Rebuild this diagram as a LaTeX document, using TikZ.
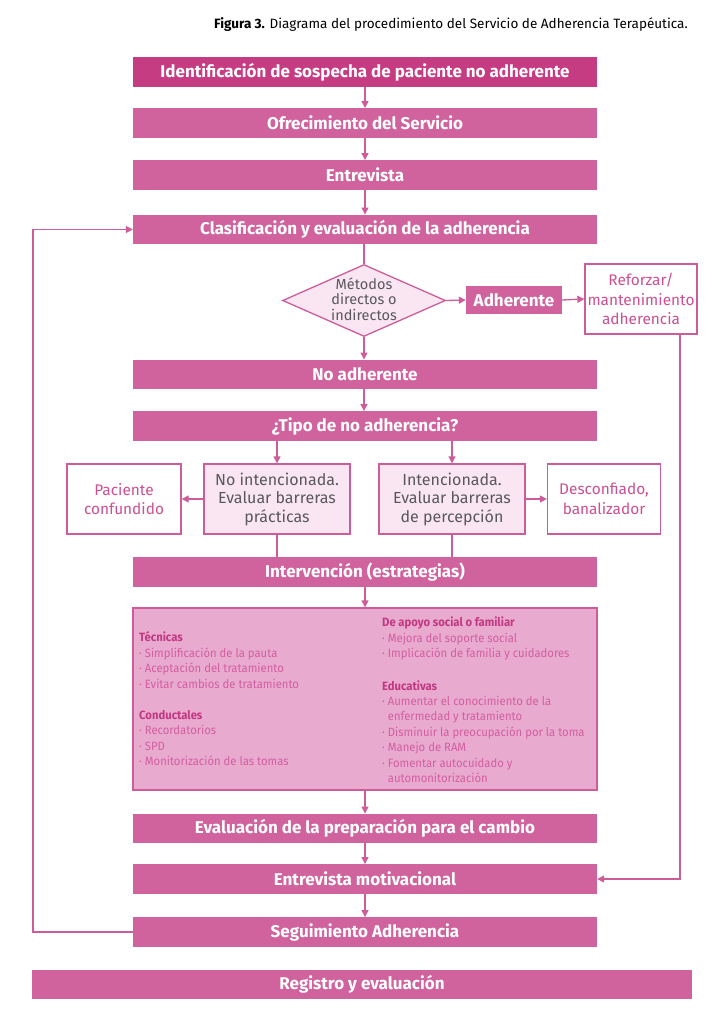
\documentclass[tikz,border=0pt]{standalone}
\usepackage{fontspec}
\setmainfont{Fira Sans}
\newfontfamily\condf{Fira Sans}
\newfontfamily\grpf[FakeStretch=0.94]{Fira Sans}
\usetikzlibrary{arrows.meta,shapes.geometric}
\definecolor{barc}{RGB}{208,98,157}
\definecolor{darkc}{RGB}{198,60,130}
\definecolor{linec}{RGB}{206,92,152}
\definecolor{lightc}{RGB}{250,230,242}
\definecolor{bigc}{RGB}{233,170,208}
\definecolor{ptext}{RGB}{205,80,145}
\definecolor{htext}{RGB}{194,56,130}
\definecolor{itext}{RGB}{210,94,160}
\definecolor{gtext}{RGB}{88,88,94}
\newcommand\grphead[1]{\textcolor{htext}{\bfseries #1}}
\begin{document}
\begin{tikzpicture}[x=1pt,y=-1pt,
  bar/.style={rectangle,fill=barc,minimum width=464pt,minimum height=29.5pt,inner sep=0pt,text=white,
    font=\condf\bfseries\fontsize{17}{19}\selectfont},
  arr/.style={draw=linec,line width=1.3pt,-{Triangle[length=7pt,width=7pt]}},
  ln/.style={draw=linec,line width=1.3pt},
  wbox/.style={rectangle,draw=linec,line width=1.3pt,fill=white,text=ptext,align=center,inner sep=0pt,
    minimum height=70pt,font=\condf\fontsize{15.4}{19.5}\selectfont},
  lbox/.style={wbox,fill=lightc,text=gtext,minimum width=146pt,font=\condf\fontsize{16}{18.5}\selectfont},
  grp/.style={anchor=west,align=left,inner sep=0pt,text=itext,font=\grpf\fontsize{12}{15.4}\selectfont}
]
\useasboundingbox (0,0) rectangle (722,1024);
\node[anchor=base east,inner sep=0pt,font=\fontsize{13.5}{16}\selectfont] (title) at (688,29)
  {\textbf{Figura 3.} Diagrama del procedimiento del Servicio de Adherencia Terapéutica.};

\node[bar,fill=darkc] (b1) at (365,72) {Identificación de sospecha de paciente no adherente};
\node[bar] (b2) at (365,123) {Ofrecimiento del Servicio};
\node[bar] (b3) at (365,175) {Entrevista};
\node[bar] (clas) at (365,229.5) {Clasificación y evaluación de la adherencia};

\node[diamond,draw=linec,line width=1.3pt,fill=lightc,minimum width=163pt,minimum height=72pt,inner sep=0pt] (d) at (364,300.5) {};
\node[align=center,text=gtext,inner sep=0pt,font=\condf\fontsize{14.5}{15.5}\selectfont] (dt) at (364,299) {Métodos\\directos o\\indirectos};

\node[bar,minimum width=96pt,minimum height=28pt] (adh) at (514,300) {Adherente};
\node[wbox,minimum width=112pt] (ref) at (641,299) {Reforzar/\\mantenimiento\\adherencia};

\node[bar] (noadh) at (365,374.5) {No adherente};
\node[bar] (tipo) at (365,426) {¿Tipo de no adherencia?};

\node[lbox] (noint) at (277,499) {No intencionada.\\Evaluar barreras\\prácticas};
\node[lbox] (int) at (452,499) {Intencionada.\\Evaluar barreras\\de percepción};
\node[wbox,minimum width=114pt] (pac) at (124,499) {Paciente\\confundido};
\node[wbox,minimum width=113pt] (desc) at (604,499) {Desconfiado,\\banalizador};

\node[bar] (interv) at (365,572) {Intervención (estrategias)};

\node[rectangle,draw=linec,line width=1.3pt,fill=bigc,minimum width=464pt,minimum height=182pt,inner sep=0pt] (big) at (365,699) {};
\node[grp] (g1) at (139,660) {\grphead{Técnicas}\\· Simplificación de la pauta\\· Aceptación del tratamiento\\· Evitar cambios de tratamiento};
\node[grp] (g2) at (139,738) {\grphead{Conductales}\\· Recordatorios\\· SPD\\· Monitorización de las tomas};
\node[grp] (g3) at (382,638.5) {\grphead{De apoyo social o familiar}\\· Mejora del soporte social\\· Implicación de familia y cuidadores};
\node[grp] (g4) at (382,731.5) {\grphead{Educativas}\\· Aumentar el conocimiento de la\\\phantom{· }enfermedad y tratamiento\\· Disminuir la preocupación por la toma\\· Manejo de RAM\\· Fomentar autocuidado y\\\phantom{· }automonitorización};

\node[bar] (evalp) at (365,828.5) {Evaluación de la preparación para el cambio};
\node[bar] (motiv) at (365,879) {Entrevista motivacional};
\node[bar] (seg) at (365,932) {Seguimiento Adherencia};
\node[bar,minimum width=660pt] (reg) at (362,984.5) {Registro y evaluación};

\coordinate (lft) at (33,0);
\coordinate (rgt) at (680,0);

\draw[arr] (b1) -- (b2);
\draw[arr] (b2) -- (b3);
\draw[arr] (b3) -- (clas);
\draw[ln] (clas.south -| d.north) -- (d.north);
\draw[arr] (d.east) -- (adh.west);
\draw[arr] (adh.east) -- (ref.west);
\draw[arr] (d.south) -- (d.south |- noadh.north);
\draw[arr] (noadh.south -| d.south) -- (tipo.north -| d.south);
\draw[arr] (tipo.south -| noint.north) -- (noint.north);
\draw[arr] (tipo.south -| int.north) -- (int.north);
\draw[arr] (noint.west) -- (pac.east);
\draw[arr] (int.east) -- (desc.west);
\draw[ln] (noint.south) -- (noint.south |- interv.north);
\draw[ln] (int.south) -- (int.south |- interv.north);
\draw[arr] (interv) -- (big);
\draw[arr] (big) -- (evalp);
\draw[arr] (evalp) -- (motiv);
\draw[arr] (motiv) -- (seg);
\draw[arr] (seg.west) -- (seg.west -| lft) |- (clas.west);
\draw[arr] (ref.south -| rgt) |- (motiv.east);
\end{tikzpicture}
\end{document}
